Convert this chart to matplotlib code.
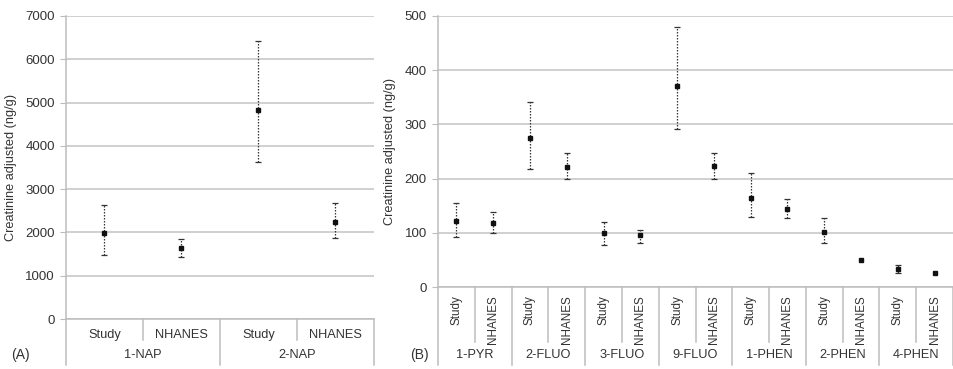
import numpy as np
import matplotlib.pyplot as plt

plt.rcParams['font.family'] = ['Liberation Sans', 'DejaVu Sans']

# panel A: naphthalene metabolites
nap_groups = ['1-NAP', '2-NAP']
nap_mean = [1980, 1640, 4830, 2230]
nap_low = [1480, 1440, 3630, 1880]
nap_high = [2630, 1850, 6420, 2670]

# panel B: other PAH metabolites
pah_groups = ['1-PYR', '2-FLUO', '3-FLUO', '9-FLUO', '1-PHEN', '2-PHEN', '4-PHEN']
pah_mean = [122, 118, 275, 222, 99, 96, 371, 224, 165, 144, 101, 49, 33, 25]
pah_low = [93, 99, 217, 200, 77, 82, 292, 199, 129, 128, 82, 49, 26, 25]
pah_high = [155, 139, 342, 248, 120, 105, 479, 247, 210, 162, 127, 49, 41, 25]

sources = ['Study', 'NHANES']

text_c = '#333333'
line_c = '#bdbdbd'


def draw_panel(ax, groups, mean, low, high, ymax, ystep, rot, minor_drop, major_drop,
               tick_pad, group_y, tag, tag_x):
    mean = np.array(mean, dtype=float)
    low = np.array(low, dtype=float)
    high = np.array(high, dtype=float)
    x = np.arange(len(mean)) + 0.5

    has_err = high > low
    eb = ax.errorbar(x[has_err], mean[has_err],
                     yerr=[mean[has_err] - low[has_err], high[has_err] - mean[has_err]],
                     fmt='none', ecolor='#333333', elinewidth=0.9, capsize=2.3,
                     capthick=0.9, zorder=3)
    eb[2][0].set_linestyle((0, (1.2, 1.2)))
    ax.plot(x, mean, 's', color='#111111', markersize=2.2, zorder=4)

    ax.set_xlim(0, len(mean))
    ax.set_ylim(0, ymax)
    ax.set_yticks(np.arange(0, ymax + 1, ystep))
    ax.yaxis.grid(True, color='#c4c4c4', linewidth=1.1)
    ax.set_axisbelow(True)
    for s in ['top', 'right']:
        ax.spines[s].set_visible(False)
    ax.spines['left'].set_color(line_c)
    ax.spines['bottom'].set_color(line_c)
    ax.spines['left'].set_linewidth(1.1)
    ax.spines['bottom'].set_linewidth(1.1)
    ax.tick_params(axis='y', colors=line_c, labelcolor=text_c, labelsize=9.5, length=4, pad=4)

    ax.set_xticks(x)
    ax.set_xticklabels(sources * len(groups), rotation=rot, fontsize=9.2 if rot == 0 else 8.4,
                       color=text_c)
    ax.tick_params(axis='x', length=0, pad=tick_pad)

    tr = ax.get_xaxis_transform()
    for i in range(len(groups)):
        ax.plot([2 * i + 1, 2 * i + 1], [0, -minor_drop], color=line_c, lw=1.1,
                transform=tr, clip_on=False)
        ax.text(2 * i + 1, group_y, groups[i], transform=tr, ha='center', va='center',
                fontsize=9.2, color=text_c)
    for i in range(len(groups) + 1):
        ax.plot([2 * i, 2 * i], [0, -major_drop], color=line_c, lw=1.1,
                transform=tr, clip_on=False)

    ax.set_ylabel('Creatinine adjusted (ng/g)', fontsize=9.2, color=text_c, labelpad=6)
    ax.text(tag_x, group_y, tag, transform=ax.transAxes, ha='center', va='center',
            fontsize=10, color=text_c)


fig = plt.figure(figsize=(9.54, 3.69), dpi=100)
ax_a = fig.add_axes([66 / 954, 1 - 319 / 369, 308 / 954, 303 / 369])
ax_b = fig.add_axes([438 / 954, 1 - 287 / 369, 515 / 954, 271 / 369])

draw_panel(ax_a, nap_groups, nap_mean, nap_low, nap_high, 7000, 1000, 0,
           21 / 303, 46 / 303, 7, -36 / 303, '(A)', -46 / 308)
draw_panel(ax_b, pah_groups, pah_mean, pah_low, pah_high, 500, 100, 90,
           55 / 271, 78 / 271, 6, -68 / 271, '(B)', -19 / 515)

plt.savefig('out.png', dpi=100)
